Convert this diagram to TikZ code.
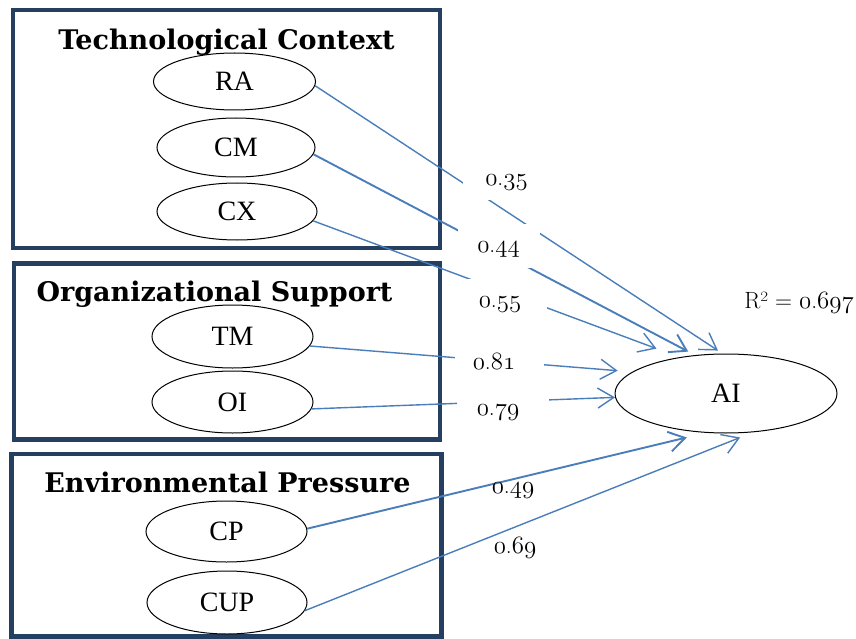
\documentclass[tikz,border=0pt]{standalone}
\usepackage{fontspec}
\newfontfamily\timesf{Liberation Serif}
\newfontfamily\titlef{DejaVu Serif}
\usetikzlibrary{shapes.geometric,arrows.meta}
\definecolor{navy}{HTML}{243F60}
\definecolor{lineblue}{HTML}{4A7EBB}
\newcommand\osd[1]{{\fontencoding{OML}\fontfamily{lmm}\fontseries{m}\fontshape{it}\selectfont #1}}
\newcommand\lab[2]{\osd{#1}.\osd{#2}}
\begin{document}
\begin{tikzpicture}[x=1pt,y=-1pt,
  grp/.style={draw=navy,line width=4.5pt},
  var/.style={ellipse,draw,line width=1pt,minimum width=161pt,minimum height=60pt,inner sep=0pt,font=\timesf\fontsize{28}{31}\selectfont},
  conn/.style={draw=lineblue,line width=1.4pt,-{Straight Barb[length=16pt,width=20pt]}},
  gtitle/.style={anchor=base,inner sep=0pt,font=\titlef\bfseries\fontsize{27}{30}\selectfont},
  coef/.style={inner sep=0pt,font=\fontsize{23.5}{26}\selectfont},
  mask/.style={fill=white}
]
\useasboundingbox (0,0) rectangle (856,639);
\fill[white] (0,0) rectangle (856,639);

% group boxes
\draw[grp] (13,10) rectangle (440,248);
\draw[grp] (14,263.5) rectangle (440,439.5);
\draw[grp] (11.5,454) rectangle (441.5,636.5);

\node[gtitle] (tT) at (226.5,50) {Technological Context};
\node[gtitle] (tO) at (214.5,301.7) {Organizational Support};
\node[gtitle] (tE) at (227.5,492.7) {Environmental Pressure};

% variables
\node[var,minimum width=162pt,minimum height=57pt] (RA) at (234.5,81.5) {RA};
\node[var,minimum width=158pt,minimum height=59pt] (CM) at (236,147.5) {CM};
\node[var,minimum width=160pt,minimum height=57pt] (CX) at (237,211.5) {CX};
\node[var,minimum height=63pt] (TM) at (232.5,336.5) {TM};
\node[var,minimum height=62pt] (OI) at (232.5,402) {OI};
\node[var,minimum height=61pt] (CP) at (226.5,531.5) {CP};
\node[var,minimum width=160pt,minimum height=63pt] (CUP) at (227,602.5) {CUP};
\node[var,minimum width=222pt,minimum height=79pt] (AI) at (726,393.5) {AI};

% connectors
\draw[conn,shorten >=5.4pt] (RA.-3) -- (AI.95);
\draw[conn,line width=1.9pt,shorten >=7.5pt] (CM.-5) -- (AI.129);
\draw[conn,shorten >=24.5pt] (CX.-7) -- (AI.142);
\draw[conn,shorten >=14.6pt] (TM.-7) -- (AI.167);
\draw[conn] (OI.-5) -- (AI.182);
\draw[conn,line width=1.9pt,shorten >=19.7pt] (CP.2) -- (AI.243);
\draw[conn,shorten >=14pt] (CUP.-6) -- (AI.-55);

% label masks
\fill[mask] (463,165) rectangle (548,200);
\fill[mask] (458,224) rectangle (540,268);
\fill[mask] (458,279) rectangle (547,325);
\fill[mask] (455,338) rectangle (544,385);
\fill[mask] (457,392) rectangle (549,435);

% coefficients
\node[coef] (c35) at (506.5,183) {\lab{0}{35}};
\node[coef] (c44) at (498.5,250) {\lab{0}{44}};
\node[coef] (c55) at (500,305) {\lab{0}{55}};
\node[coef] (c81) at (494,361) {\lab{0}{81}};
\node[coef] (c79) at (498,413) {\lab{0}{79}};
\node[coef] (c49) at (513,491) {\lab{0}{49}};
\node[coef] (c69) at (515,548) {\lab{0}{69}};
\node[coef] (r2) at (799,303) {R² = \lab{0}{697}};
\end{tikzpicture}
\end{document}
